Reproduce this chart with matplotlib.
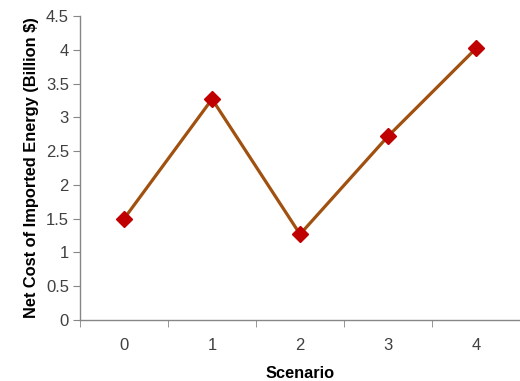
import matplotlib

matplotlib.use("Agg")

import matplotlib.pyplot as plt
from matplotlib.ticker import FixedLocator, MultipleLocator

plt.rcParams["font.family"] = ["Liberation Sans", "DejaVu Sans"]

scenarios = [0, 1, 2, 3, 4]
net_cost = [1.50, 3.27, 1.27, 2.72, 4.02]

AXIS_GREY = "#868686"
TEXT_GREY = "#404040"

fig = plt.figure(figsize=(5.2, 3.81), dpi=100)
ax = fig.add_axes([0.154, 0.16, 0.846, 0.798])

ax.plot(scenarios, net_cost, color="#A0500F", linewidth=2.3,
        marker="D", markersize=8, markerfacecolor="#C00000",
        markeredgecolor="#C00000", zorder=3)

ax.set_xlim(-0.5, 4.5)
ax.set_ylim(0, 4.5)
ax.yaxis.set_major_locator(MultipleLocator(0.5))
ax.yaxis.set_major_formatter(plt.FuncFormatter(lambda v, _: f"{v:g}"))

# category labels in the middle, tick marks on the boundaries (Excel style)
ax.set_xticks(scenarios)
ax.set_xticklabels([str(s) for s in scenarios])
ax.xaxis.set_minor_locator(FixedLocator([s - 0.5 for s in scenarios] + [4.5]))
ax.tick_params(axis="x", which="major", length=0, pad=13,
               labelsize=12, labelcolor=TEXT_GREY)
ax.tick_params(axis="x", which="minor", length=5, color=AXIS_GREY)
ax.tick_params(axis="y", length=5, color=AXIS_GREY, pad=3,
               labelsize=12, labelcolor=TEXT_GREY)

for side in ("top", "right"):
    ax.spines[side].set_visible(False)
for side in ("left", "bottom"):
    ax.spines[side].set_color(AXIS_GREY)
    ax.spines[side].set_linewidth(1)

ax.set_xlabel("Scenario", fontsize=11.8, fontweight="bold", labelpad=9)
ax.set_ylabel("Net Cost of Imported Energy (Billion $)", fontsize=11.8,
              fontweight="bold", labelpad=5)

fig.savefig("out.png", dpi=100)
